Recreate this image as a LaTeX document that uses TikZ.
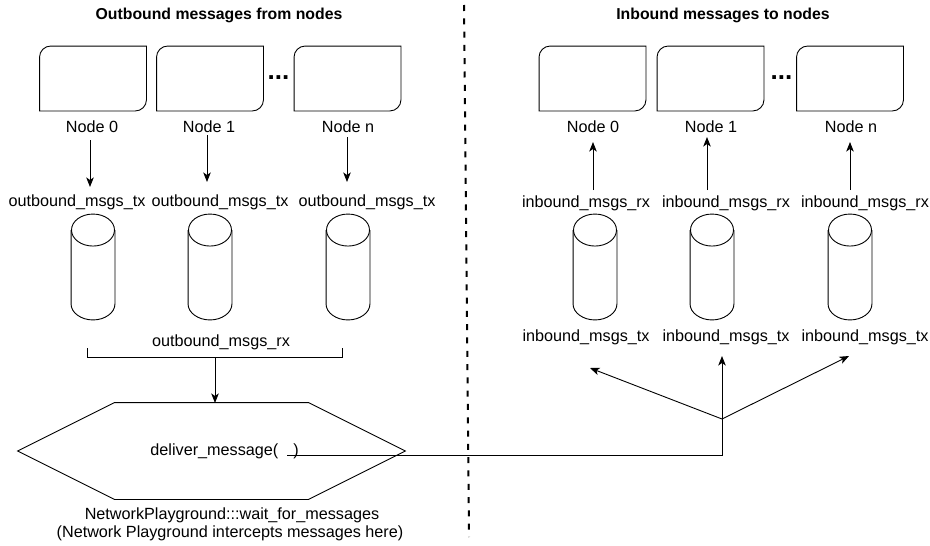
\documentclass[tikz,border=0pt]{standalone}
\usepackage{fontspec}
\setmainfont{Liberation Sans}
\usetikzlibrary{arrows.meta}
\newcommand\cardout[1]{%
  \draw ([yshift=-11pt]#1.north west) .. controls ([yshift=-5pt]#1.north west) and ([xshift=5pt]#1.north west) .. ([xshift=11pt]#1.north west)
    -- (#1.north east) -- ([yshift=11pt]#1.south east) .. controls ([yshift=5pt]#1.south east) and ([xshift=-5pt]#1.south east) .. ([xshift=-11pt]#1.south east)
    -- (#1.south west) -- cycle;}
\newcommand\cylout[1]{%
  \draw ([yshift=-16pt]#1.north) ellipse [x radius=21.5pt, y radius=16pt];
  \draw ([yshift=-16pt]#1.north west) -- ([yshift=16pt]#1.south west)
    .. controls ([yshift=7.16pt]#1.south west) and ([xshift=-11.87pt]#1.south) .. (#1.south)
    .. controls ([xshift=11.87pt]#1.south) and ([yshift=7.16pt]#1.south east) .. ([yshift=16pt]#1.south east)
    -- ([yshift=-16pt]#1.north east);}
\begin{document}
\begin{tikzpicture}[x=1pt,y=-1pt,line width=0.9pt,
  lbl/.style={font=\fontsize{16.2}{19}\selectfont, inner sep=0pt},
  ttl/.style={font=\fontsize{15.8}{19}\selectfont\bfseries, inner sep=0pt},
  dotsty/.style={font=\fontsize{26}{26}\selectfont\bfseries, inner sep=0pt},
  card/.style={minimum width=106pt, minimum height=64pt, inner sep=0pt, draw=none},
  cyl/.style={minimum width=43pt, minimum height=105pt, inner sep=0pt, draw=none},
  hexa/.style={minimum width=387pt, minimum height=96pt, inner sep=0pt, draw=none},
  arr/.style={-{Stealth[length=9.5pt,width=7.5pt,inset=2.5pt]}},
  divider/.style={line width=2pt, dash pattern=on 6pt off 7.3pt}]
\useasboundingbox (0,0) rectangle (930,546);

% titles
\node[ttl] (t1) at (219,15) {Outbound messages from nodes};
\node[ttl] (t2) at (723,15) {Inbound messages to nodes};

% divider
\coordinate (dtop) at (464,5);
\coordinate (dbot) at (469,537);
\draw[divider] (dtop) -- (dbot);

% node cards
\node[card] (on0) at (93,78.5) {};
\node[card] (on1) at (210,78.5) {};
\node[card] (on2) at (347.5,78.5) {};
\node[card] (in0) at (592.5,78.5) {};
\node[card] (in1) at (710.5,78.5) {};
\node[card] (in2) at (850,78.5) {};
\foreach \c in {on0,on1,on2,in0,in1,in2}{\cardout{\c}}
\node[dotsty] (dl) at (278.5,78) {...};
\node[dotsty] (dr) at (781.5,78) {...};

% node labels
\node[lbl] (lo0) at (92,127) {Node 0};
\node[lbl] (lo1) at (209,127) {Node 1};
\node[lbl] (lo2) at (348,127) {Node n};
\node[lbl] (li0) at (593,127) {Node 0};
\node[lbl] (li1) at (711,127) {Node 1};
\node[lbl] (li2) at (851,127) {Node n};

% outbound arrows
\coordinate (ao0s) at (90,140);  \coordinate (ao0e) at (90,187);
\coordinate (ao1s) at (207,135); \coordinate (ao1e) at (207,182);
\coordinate (ao2s) at (347,137); \coordinate (ao2e) at (347,182);
\draw[arr] (ao0s) -- (ao0e);
\draw[arr] (ao1s) -- (ao1e);
\draw[arr] (ao2s) -- (ao2e);

% inbound arrows
\coordinate (ai0s) at (593,190); \coordinate (ai0e) at (593,142);
\coordinate (ai1s) at (707,190); \coordinate (ai1e) at (707,137);
\coordinate (ai2s) at (850,190); \coordinate (ai2e) at (850,142);
\draw[arr] (ai0s) -- (ai0e);
\draw[arr] (ai1s) -- (ai1e);
\draw[arr] (ai2s) -- (ai2e);

% channel labels
\node[lbl] (otx0) at (77,202) {outbound\_msgs\_tx};
\node[lbl] (otx1) at (220,202) {outbound\_msgs\_tx};
\node[lbl] (otx2) at (367,202) {outbound\_msgs\_tx};
\node[lbl] (irx0) at (586,203) {inbound\_msgs\_rx};
\node[lbl] (irx1) at (726,203) {inbound\_msgs\_rx};
\node[lbl] (irx2) at (865,203) {inbound\_msgs\_rx};
\node[lbl] (itx0) at (586,337) {inbound\_msgs\_tx};
\node[lbl] (itx1) at (726,337) {inbound\_msgs\_tx};
\node[lbl] (itx2) at (865,337) {inbound\_msgs\_tx};

% cylinders
\node[cyl] (co0) at (93,267) {};
\node[cyl] (co1) at (210,267) {};
\node[cyl] (co2) at (348,267) {};
\node[cyl] (ci0) at (595,267) {};
\node[cyl] (ci1) at (712,267) {};
\node[cyl] (ci2) at (850,267) {};
\foreach \c in {co0,co1,co2,ci0,ci1,ci2}{\cylout{\c}}

% bracket
\node[lbl] (orx) at (221,342) {outbound\_msgs\_rx};
\coordinate (bl) at (87,348);
\coordinate (blb) at (87,357);
\coordinate (brb) at (342,357);
\coordinate (br) at (342,348);
\draw (bl) -- (blb) -- (brb) -- (br);
\coordinate (bm) at (215,357);

% hexagon
\node[hexa] (hx) at (211.5,451) {};
\draw (hx.west) -- ([xshift=97pt]hx.north west) -- ([xshift=-97pt]hx.north east) -- (hx.east)
  -- ([xshift=-97pt]hx.south east) -- ([xshift=97pt]hx.south west) -- cycle;
\coordinate (hxtop) at (215,403);
\draw[arr] (bm) -- (hxtop);
\node[lbl, anchor=west] (dm) at (150,451) {deliver\_message(\hspace{15pt})};
\node[lbl] (np1) at (232,515) {NetworkPlayground:::wait\_for\_messages};
\node[lbl] (np2) at (230,533) {(Network Playground intercepts messages here)};

% delivery connectors
\coordinate (dmo) at (287,455);
\coordinate (jn) at (722,419);
\coordinate (tg0) at (590,368);
\coordinate (tg1) at (722,356);
\coordinate (tg2) at (849,356);
\draw[arr] (dmo) -| (tg1);
\draw[arr] (jn) -- (tg0);
\draw[arr] (jn) -- (tg2);
\end{tikzpicture}
\end{document}
